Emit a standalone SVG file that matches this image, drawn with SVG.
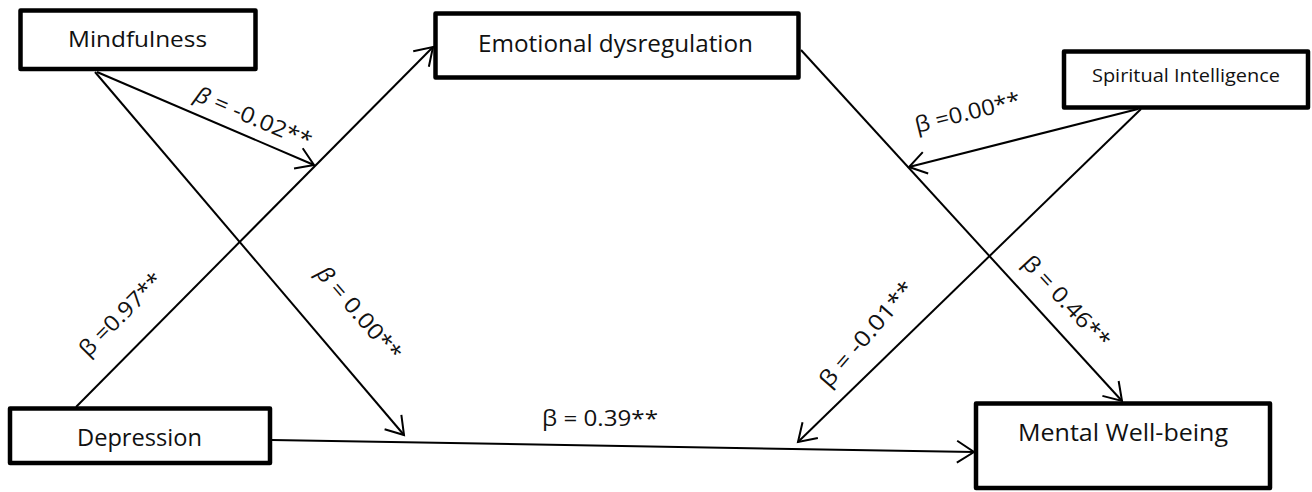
<svg xmlns="http://www.w3.org/2000/svg" width="1312" height="492" viewBox="0 0 1312 492">
<style>
.box{fill:#fff;stroke:#000;stroke-width:4.5;stroke-linejoin:round}
.nt{font-family:"Open Sans","Liberation Sans",sans-serif;fill:#111}
.lb{font-family:"Open Sans","Liberation Sans",sans-serif;font-size:22px;fill:#111}
.ln{stroke:#000;stroke-width:2;fill:none}
</style>
<defs>
<marker id="ah" markerUnits="userSpaceOnUse" markerWidth="22" markerHeight="26" viewBox="0 0 22 26" refX="19" refY="13" orient="auto">
<path d="M2,2 L19,13 L2,24" fill="none" stroke="#000" stroke-width="2"/>
</marker>
</defs>
<rect width="1312" height="492" fill="#fff"/>
<g id="connectors">
<line class="ln" x1="97" y1="72" x2="314" y2="165" marker-end="url(#ah)"/>
<line class="ln" x1="95" y1="72" x2="404" y2="435" marker-end="url(#ah)"/>
<line class="ln" x1="76" y1="407" x2="433" y2="47" marker-end="url(#ah)"/>
<line class="ln" x1="272" y1="440" x2="974" y2="452" marker-end="url(#ah)"/>
<line class="ln" x1="801" y1="50" x2="1122" y2="401" marker-end="url(#ah)"/>
<line class="ln" x1="1138" y1="109" x2="909" y2="167" marker-end="url(#ah)"/>
<line class="ln" x1="1141" y1="109" x2="798" y2="442" marker-end="url(#ah)"/>
<text class="lb" transform="translate(193,100) rotate(23)" textLength="125" lengthAdjust="spacingAndGlyphs"><tspan font-style="italic">β</tspan> = -0.02**</text>
<text class="lb" transform="translate(917,133) rotate(-14)" textLength="108" lengthAdjust="spacingAndGlyphs">β =0.00**</text>
<text class="lb" transform="translate(88,358) rotate(-45)" textLength="108" lengthAdjust="spacingAndGlyphs">β =0.97**</text>
<text class="lb" transform="translate(315,274) rotate(49)" textLength="117" lengthAdjust="spacingAndGlyphs"><tspan font-style="italic">β</tspan> = 0.00**</text>
<text class="lb" x="542" y="426" textLength="116" lengthAdjust="spacingAndGlyphs">β = 0.39**</text>
<text class="lb" transform="translate(829,389) rotate(-49)" textLength="132" lengthAdjust="spacingAndGlyphs">β = -0.01**</text>
<text class="lb" transform="translate(1021,264) rotate(47)" textLength="117" lengthAdjust="spacingAndGlyphs">β = 0.46**</text>
</g>
<g id="mindfulness">
<rect class="box" x="20.5" y="10.5" width="235" height="58.5"/>
<text class="nt" x="68" y="47" font-size="21" textLength="139" lengthAdjust="spacingAndGlyphs">Mindfulness</text>
</g>
<g id="emotional-dysregulation">
<rect class="box" x="435.5" y="13.5" width="363" height="64"/>
<text class="nt" x="478" y="52" font-size="24" textLength="275" lengthAdjust="spacingAndGlyphs">Emotional dysregulation</text>
</g>
<g id="spiritual-intelligence">
<rect class="box" x="1064" y="51.5" width="244" height="56"/>
<text class="nt" x="1092" y="82" font-size="19" textLength="188" lengthAdjust="spacingAndGlyphs">Spiritual Intelligence</text>
</g>
<g id="depression">
<rect class="box" x="10" y="408.5" width="260" height="54.5"/>
<text class="nt" x="77" y="446" font-size="24" textLength="125" lengthAdjust="spacingAndGlyphs">Depression</text>
</g>
<g id="mental-well-being">
<rect class="box" x="976" y="403.5" width="294" height="84.5"/>
<text class="nt" x="1018" y="441" font-size="24" textLength="210" lengthAdjust="spacingAndGlyphs">Mental Well-being</text>
</g>
</svg>
